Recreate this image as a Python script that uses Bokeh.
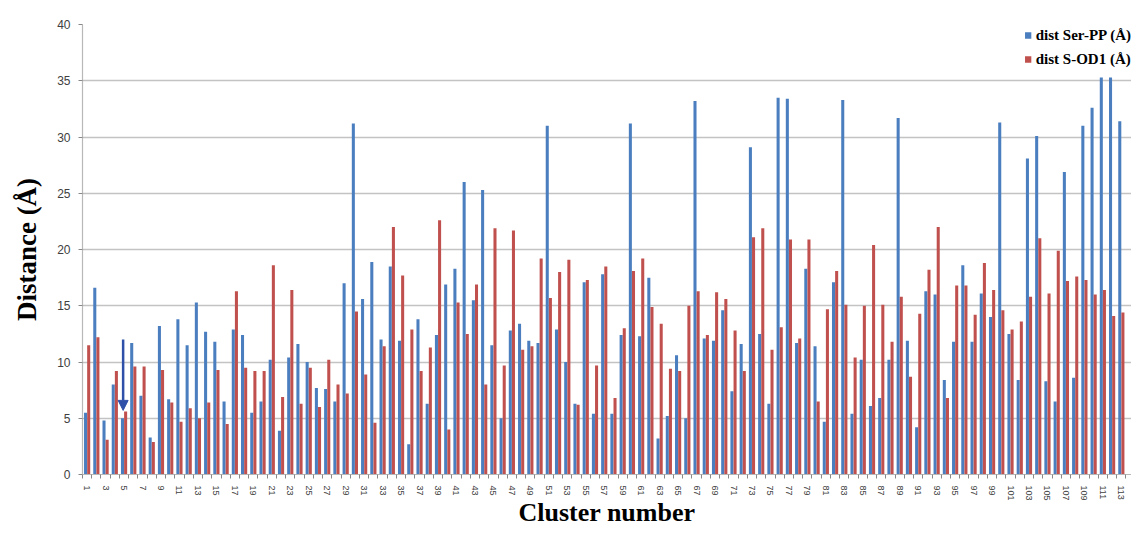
from bokeh.plotting import figure
from bokeh.models import FixedTicker, Legend, LegendItem, Arrow, NormalHead, ColumnDataSource, Range1d
from bokeh.transform import dodge
from bokeh.embed import file_html
from bokeh.resources import INLINE

clusters = list(range(1, 114))
ser_pp = [5.5, 16.6, 4.8, 8.0, 5.0, 11.7, 7.0, 3.3, 13.2, 6.7,
          13.8, 11.5, 15.3, 12.7, 11.8, 6.5, 12.9, 12.4, 5.5, 6.5,
          10.2, 3.9, 10.4, 11.6, 10.0, 7.7, 7.6, 6.5, 17.0, 31.2,
          15.6, 18.9, 12.0, 18.5, 11.9, 2.7, 13.8, 6.3, 12.4, 16.9,
          18.3, 26.0, 15.5, 25.3, 11.5, 5.0, 12.8, 13.4, 11.9, 11.7,
          31.0, 12.9, 10.0, 6.3, 17.1, 5.4, 17.8, 5.4, 12.4, 31.2,
          12.3, 17.5, 3.2, 5.2, 10.6, 5.0, 33.2, 12.1, 11.9, 14.6,
          7.4, 11.6, 29.1, 12.5, 6.3, 33.5, 33.4, 11.7, 18.3, 11.4,
          4.7, 17.1, 33.3, 5.4, 10.2, 6.1, 6.8, 10.2, 31.7, 11.9,
          4.2, 16.3, 16.0, 8.4, 11.8, 18.6, 11.8, 16.1, 14.0, 31.3,
          12.5, 8.4, 28.1, 30.1, 8.3, 6.5, 26.9, 8.6, 31.0, 32.6,
          35.3, 35.3, 31.4]
s_od1 = [11.5, 12.2, 3.1, 9.2, 5.6, 9.6, 9.6, 2.9, 9.3, 6.4,
         4.7, 5.9, 5.0, 6.4, 9.3, 4.5, 16.3, 9.5, 9.2, 9.2,
         18.6, 6.9, 16.4, 6.3, 9.5, 6.0, 10.2, 8.0, 7.2, 14.5,
         8.9, 4.6, 11.4, 22.0, 17.7, 12.9, 9.2, 11.3, 22.6, 4.0,
         15.3, 12.5, 16.9, 8.0, 21.9, 9.7, 21.7, 11.1, 11.4, 19.2,
         15.7, 18.0, 19.1, 6.2, 17.3, 9.7, 18.5, 6.8, 13.0, 18.1,
         19.2, 14.9, 13.4, 9.4, 9.2, 15.0, 16.3, 12.4, 16.2, 15.6,
         12.8, 9.2, 21.1, 21.9, 11.1, 13.1, 20.9, 12.1, 20.9, 6.5,
         14.7, 18.1, 15.1, 10.4, 15.0, 20.4, 15.1, 11.8, 15.8, 8.7,
         14.3, 18.2, 22.0, 6.8, 16.8, 16.8, 14.2, 18.8, 16.4, 14.6,
         12.9, 13.6, 15.8, 21.0, 16.1, 19.9, 17.2, 17.6, 17.3, 16.0,
         16.4, 14.1, 14.4]
series_names = ["dist Ser-PP (Å)", "dist S-OD1 (Å)"]
y_ticks = [0, 5, 10, 15, 20, 25, 30, 35, 40]
x_labels = [c for c in clusters if c % 2 == 1]
arrow_cluster = 5
arrow_from = 12.0
arrow_to = 5.7

BLUE = "#4a7ebf"
RED = "#c0504d"

src = ColumnDataSource(dict(x=clusters, a=ser_pp, b=s_od1))

p = figure(width=1131, height=543, output_backend="svg", toolbar_location=None,
           x_range=Range1d(0.5, 114.1), y_range=Range1d(0, 40),
           min_border_left=82, min_border_right=0, min_border_top=24, min_border_bottom=69)
p.outline_line_color = None
p.background_fill_color = "white"
p.border_fill_color = "white"

r1 = p.vbar(x=dodge("x", -0.17, range=p.x_range), top="a", width=0.33, source=src,
            fill_color=BLUE, line_color=None)
r2 = p.vbar(x=dodge("x", 0.17, range=p.x_range), top="b", width=0.33, source=src,
            fill_color=RED, line_color=None)

p.add_layout(Arrow(x_start=arrow_cluster - 0.1, y_start=arrow_from,
                   x_end=arrow_cluster - 0.1, y_end=arrow_to,
                   line_color="#2f50a8", line_width=2.5,
                   end=NormalHead(size=10, fill_color="#2f50a8", line_color="#2f50a8")))

p.xgrid.grid_line_color = None
p.ygrid.grid_line_color = "#c3c3c3"
p.ygrid.grid_line_width = 1.6
p.ygrid.ticker = FixedTicker(ticks=y_ticks)

ya = p.yaxis[0]
ya.ticker = FixedTicker(ticks=y_ticks)
ya.axis_line_color = "#b8b8b8"
ya.axis_line_width = 1.2
ya.major_tick_line_color = "#888888"
ya.major_tick_out = 4
ya.major_tick_in = 0
ya.minor_tick_line_color = None
ya.major_label_text_font = "Liberation Sans"
ya.major_label_text_font_size = "12px"
ya.major_label_text_color = "#404040"
ya.major_label_standoff = 8
ya.axis_label = "Distance (Å)"
ya.axis_label_text_font = "Liberation Serif"
ya.axis_label_text_font_style = "bold"
ya.axis_label_text_font_size = "27px"
ya.axis_label_text_color = "black"
ya.axis_label_standoff = 12

xa = p.xaxis[0]
xa.ticker = FixedTicker(ticks=x_labels, minor_ticks=[c - 0.5 for c in clusters] + [clusters[-1] + 0.5])
xa.axis_line_color = "#b8b8b8"
xa.axis_line_width = 1.2
xa.major_tick_line_color = None
xa.minor_tick_line_color = "#888888"
xa.minor_tick_out = 4
xa.minor_tick_in = 0
xa.major_label_orientation = "vertical"
xa.major_label_text_font = "Liberation Sans"
xa.major_label_text_font_size = "9px"
xa.major_label_text_color = "#404040"
xa.major_label_standoff = 5
xa.axis_label = "Cluster number"
xa.axis_label_text_font = "Liberation Serif"
xa.axis_label_text_font_style = "bold"
xa.axis_label_text_font_size = "26px"
xa.axis_label_text_color = "black"
xa.axis_label_standoff = -6

legend = Legend(items=[LegendItem(label=series_names[0], renderers=[r1]),
                       LegendItem(label=series_names[1], renderers=[r2])],
                location="top_right", margin=0, padding=6, spacing=2,
                label_height=22, glyph_width=8, glyph_height=8, label_standoff=4,
                label_text_font="Liberation Serif", label_text_font_style="bold",
                label_text_font_size="15px", label_text_color="black",
                background_fill_color="white", background_fill_alpha=1.0,
                border_line_color=None)
p.add_layout(legend)

open("out.html", "w").write(file_html(p, INLINE))
